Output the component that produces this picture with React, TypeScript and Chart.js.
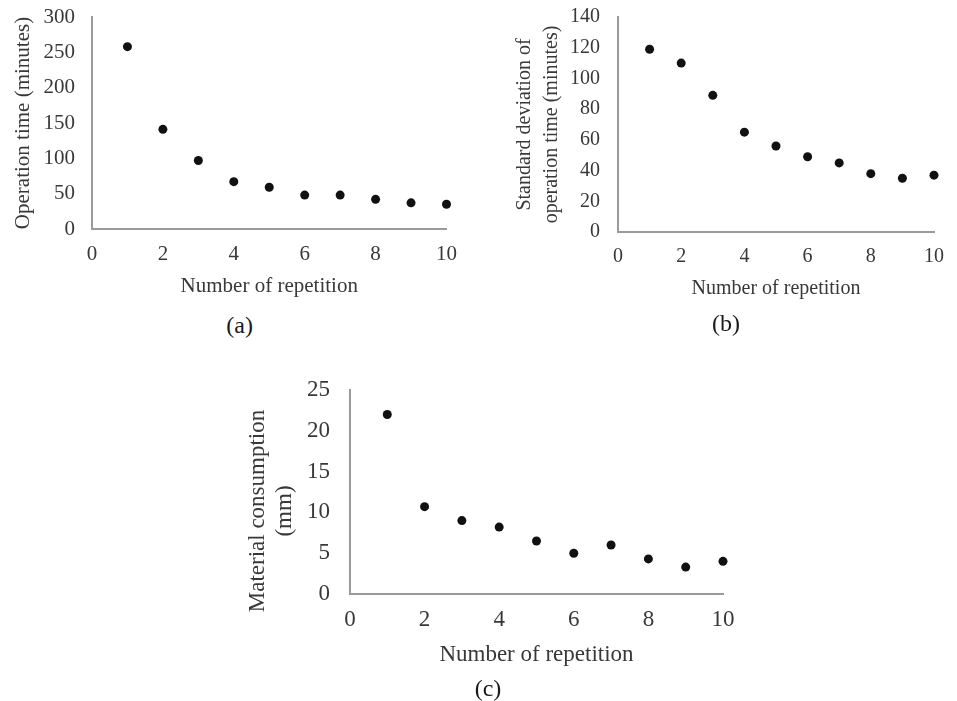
import React, { useEffect, useRef } from 'react';
import { Chart, registerables } from 'chart.js';

Chart.register(...registerables);

// ---------- data ----------
const repetitions = [1, 2, 3, 4, 5, 6, 7, 8, 9, 10];
const operationTime = [258, 141, 97, 67, 59, 48, 48, 42, 37, 35];
const stdDevOperationTime = [119, 110, 89, 65, 56, 49, 45, 38, 35, 37];
const materialConsumption = [22, 10.7, 9, 8.2, 6.5, 5, 6, 4.3, 3.3, 4];

const xTickValues = [0, 2, 4, 6, 8, 10];
const yTicksA = [0, 50, 100, 150, 200, 250, 300];
const yTicksB = [0, 20, 40, 60, 80, 100, 120, 140];
const yTicksC = [0, 5, 10, 15, 20, 25];

const xAxisTitle = 'Number of repetition';
const yTitleA = 'Operation time (minutes)';
const yTitleB = ['Standard deviation of', 'operation time (minutes)'];
const yTitleC = ['Material consumption', '(mm)'];
const captions = ['(a)', '(b)', '(c)'];

// ---------- styling / layout ----------
const FONT = "'Liberation Serif', 'Times New Roman', serif";
const TEXT = '#383838';
const AXIS = '#9a9a9a';
const DOT = '#111111';

type Panel = {
  box: { left: number; top: number; width: number; height: number };
  values: number[];
  yTicks: number[];
  yTitle: string | string[];
  fontSize: number;
  titleLineHeight: number;
  padding: { top: number; right: number; bottom: number; left: number };
  yWidth: number;
  xHeight: number;
  yTickPad: number;
  xTickPad: number;
  yTitlePadTop: number;
  titleAsPlugin?: boolean;
  spacer?: number;
};

const panels: Panel[] = [
  {
    box: { left: 0, top: 0, width: 470, height: 310 },
    values: operationTime,
    yTicks: yTicksA,
    yTitle: yTitleA,
    fontSize: 21,
    titleLineHeight: 1.2,
    padding: { top: 17, right: 20, bottom: 11, left: 0 },
    yWidth: 92,
    xHeight: 70,
    yTickPad: 17,
    xTickPad: 13,
    yTitlePadTop: 11,
  },
  {
    box: { left: 480, top: 0, width: 477, height: 310 },
    values: stdDevOperationTime,
    yTicks: yTicksB,
    yTitle: yTitleB,
    fontSize: 20,
    titleLineHeight: 1.335,
    padding: { top: 17, right: 15, bottom: 9, left: 0 },
    yWidth: 138,
    xHeight: 69,
    yTickPad: 18,
    xTickPad: 13,
    yTitlePadTop: 31.6,
  },
  {
    box: { left: 240, top: 350, width: 520, height: 330 },
    values: materialConsumption,
    yTicks: yTicksC,
    yTitle: yTitleC,
    fontSize: 23,
    titleLineHeight: 1.16,
    padding: { top: 3, right: 37, bottom: 11, left: 0 },
    yWidth: 51.6,
    xHeight: 75,
    yTickPad: 20,
    xTickPad: 12,
    yTitlePadTop: 5,
    titleAsPlugin: true,
    spacer: 37,
  },
];

const captionPos = [
  { cx: 239.7, cy: 325 },
  { cx: 726, cy: 323 },
  { cx: 488, cy: 688 },
];

function buildConfig(p: Panel): any {
  const tickFont = { family: FONT, size: p.fontSize };
  const yTitleFont = { family: FONT, size: p.fontSize, lineHeight: p.titleLineHeight };
  return {
    type: 'scatter',
    data: {
      datasets: [
        {
          data: repetitions.map((x, i) => ({ x, y: p.values[i] })),
          pointRadius: 4.5,
          pointHoverRadius: 4.5,
          pointBackgroundColor: DOT,
          pointBorderColor: DOT,
          pointBorderWidth: 0,
          showLine: false,
          clip: false,
        },
      ],
    },
    options: {
      animation: false,
      responsive: false,
      maintainAspectRatio: false,
      events: [],
      layout: { padding: p.padding },
      plugins: {
        legend: { display: false },
        tooltip: { enabled: false },
        title: p.titleAsPlugin
          ? {
              display: true,
              position: 'left',
              fullSize: true,
              text: p.yTitle,
              color: TEXT,
              font: { ...yTitleFont, weight: 'normal' },
              padding: { top: p.yTitlePadTop, bottom: 0 },
            }
          : { display: false },
        subtitle: p.spacer
          ? {
              display: true,
              position: 'top',
              text: '',
              font: { family: FONT, size: 10, lineHeight: p.spacer / 10 },
              padding: 0,
            }
          : { display: false },
      },
      scales: {
        x: {
          type: 'linear',
          position: 'bottom',
          min: xTickValues[0],
          max: xTickValues[xTickValues.length - 1],
          grid: { display: false, drawTicks: false },
          border: { display: true, color: AXIS, width: 2 },
          ticks: { padding: p.xTickPad, color: TEXT, font: tickFont, maxRotation: 0 },
          afterBuildTicks: (s: any) => {
            s.ticks = xTickValues.map((v) => ({ value: v }));
          },
          afterFit: (s: any) => {
            s.height = p.xHeight;
          },
          title: {
            display: true,
            text: xAxisTitle,
            color: TEXT,
            font: { family: FONT, size: p.fontSize, lineHeight: 1.2 },
            padding: { top: 0, bottom: 0 },
          },
        },
        y: {
          type: 'linear',
          position: 'left',
          min: p.yTicks[0],
          max: p.yTicks[p.yTicks.length - 1],
          grid: { display: false, drawTicks: false },
          border: { display: true, color: AXIS, width: 2 },
          ticks: { padding: p.yTickPad, color: TEXT, font: tickFont },
          afterBuildTicks: (s: any) => {
            s.ticks = p.yTicks.map((v) => ({ value: v }));
          },
          afterFit: (s: any) => {
            s.width = p.yWidth;
            s.paddingTop = 0;
            s.paddingBottom = 0;
          },
          title: p.titleAsPlugin
            ? { display: false }
            : {
                display: true,
                text: p.yTitle,
                color: TEXT,
                font: yTitleFont,
                padding: { top: p.yTitlePadTop, bottom: 0 },
              },
        },
      },
    },
  };
}

function ScatterPanel({ panel }: { panel: Panel }) {
  const ref = useRef<HTMLCanvasElement | null>(null);
  useEffect(() => {
    if (!ref.current) return;
    const chart = new Chart(ref.current, buildConfig(panel));
    return () => chart.destroy();
  }, [panel]);
  const b = panel.box;
  return (
    <canvas
      ref={ref}
      width={b.width}
      height={b.height}
      style={{ position: 'absolute', left: b.left, top: b.top, width: b.width, height: b.height }}
    />
  );
}

export default function App() {
  return (
    <div
      style={{
        position: 'fixed',
        left: 0,
        top: 0,
        width: 957,
        height: 701,
        background: '#ffffff',
        overflow: 'hidden',
      }}
    >
      {panels.map((p, i) => (
        <ScatterPanel key={i} panel={p} />
      ))}
      {captions.map((c, i) => (
        <div
          key={c}
          style={{
            position: 'absolute',
            left: captionPos[i].cx - 40,
            top: captionPos[i].cy - 14,
            width: 80,
            height: 28,
            lineHeight: '28px',
            textAlign: 'center',
            fontFamily: FONT,
            fontSize: 24,
            color: '#1a1a1a',
          }}
        >
          {c}
        </div>
      ))}
    </div>
  );
}
